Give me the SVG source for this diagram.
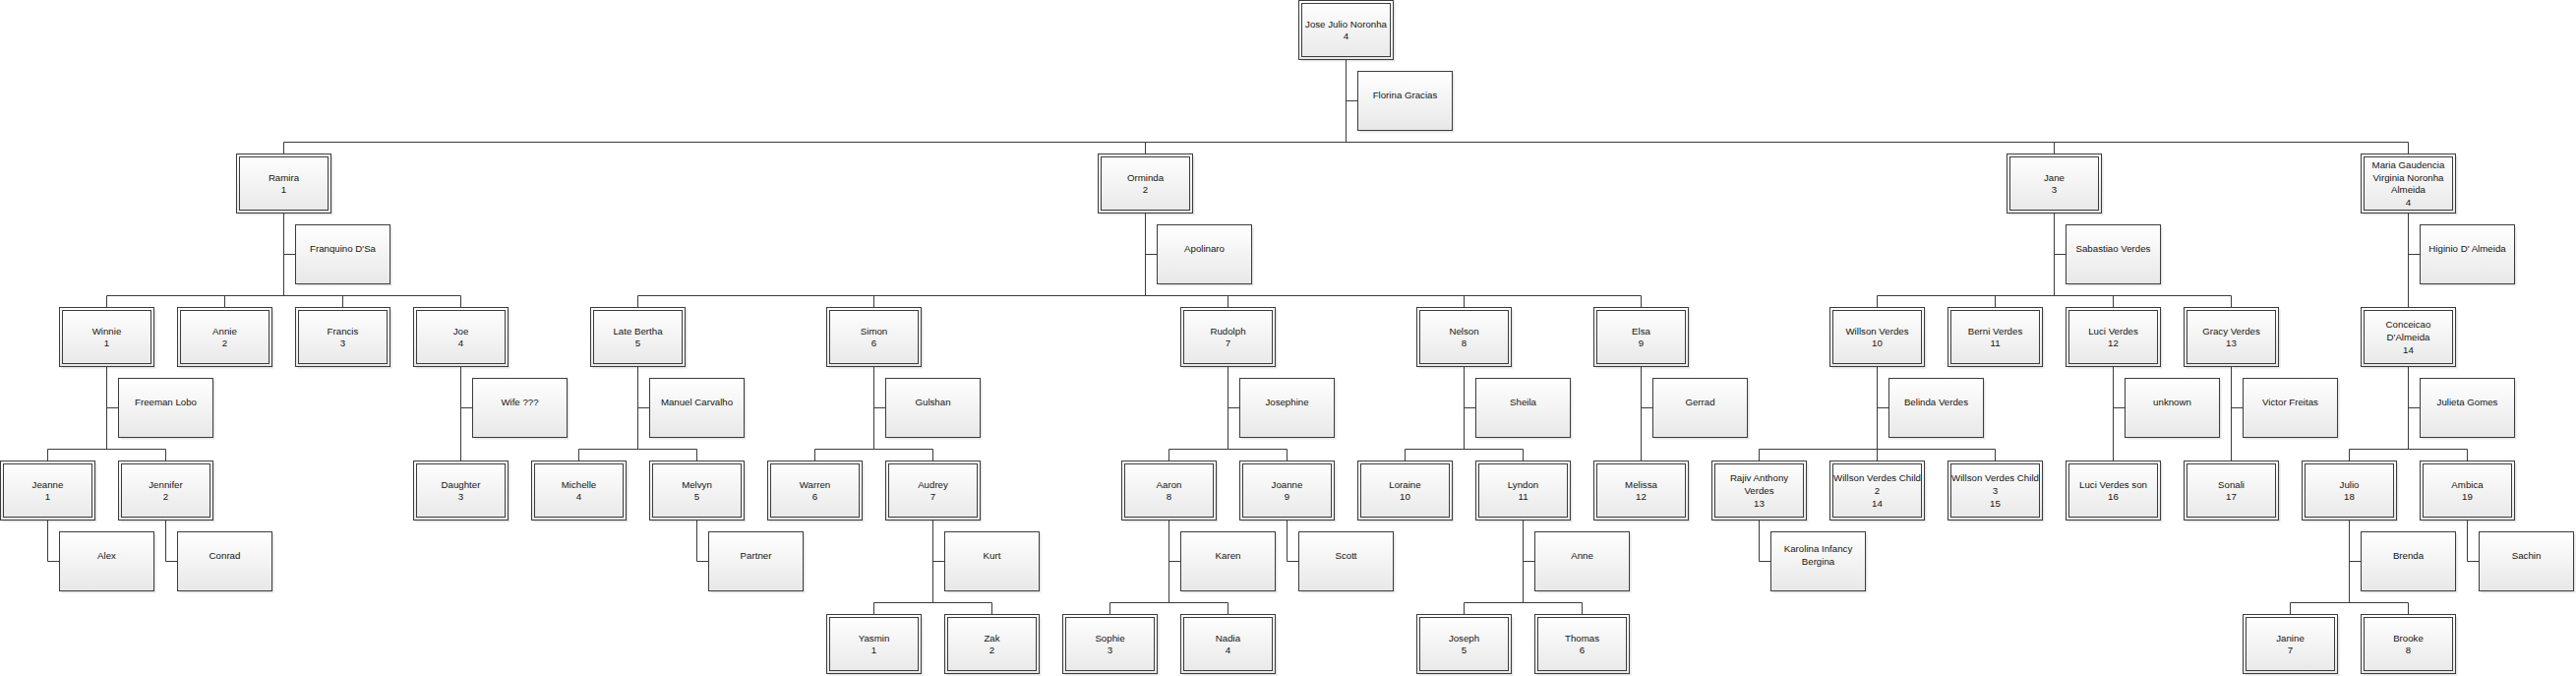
<svg xmlns="http://www.w3.org/2000/svg" xmlns:xlink="http://www.w3.org/1999/xlink" width="2619" height="687" viewBox="0 0 2619 687">
<style>
.o{fill:url(#grad);stroke:#3c3c3c;stroke-width:1}
.i{fill:none;stroke:#3c3c3c;stroke-width:1}
.sh{fill:#000;opacity:0.1}
.c{fill:none;stroke:#3c3c3c;stroke-width:1}
text{font-family:"Liberation Sans",Arial,sans-serif;font-size:9.7px;fill:#141414;text-anchor:middle}
</style>
<defs>
<linearGradient id="grad" x1="0" y1="0" x2="0" y2="1">
<stop offset="0" stop-color="#ffffff"/>
<stop offset="1" stop-color="#e8e8e8"/>
</linearGradient>
<g id="dbox"><rect class="sh" x="2" y="2" width="96" height="60"/><rect class="o" width="96" height="60"/><rect class="i" x="3" y="3" width="90" height="54"/></g>
<g id="sbox"><rect class="sh" x="2" y="2" width="96" height="60"/><rect class="o" width="96" height="60"/></g>
</defs>
<rect width="2619" height="687" fill="#fff"/>
<g id="connectors">
<path class="c" d="M1368.5 60.5V144.5M1368.5 102.5H1380.5M288.5 144.5H2448.5M288.5 144.5V156.5M1164.5 144.5V156.5M2088.5 144.5V156.5M2448.5 144.5V156.5"/>
<path class="c" d="M288.5 216.5V300.5M288.5 258.5H300.5M108.5 300.5H468.5M108.5 300.5V312.5M228.5 300.5V312.5M348.5 300.5V312.5M468.5 300.5V312.5"/>
<path class="c" d="M1164.5 216.5V300.5M1164.5 258.5H1176.5M648.5 300.5H1668.5M648.5 300.5V312.5M888.5 300.5V312.5M1248.5 300.5V312.5M1488.5 300.5V312.5M1668.5 300.5V312.5"/>
<path class="c" d="M2088.5 216.5V300.5M2088.5 258.5H2100.5M1908.5 300.5H2268.5M1908.5 300.5V312.5M2028.5 300.5V312.5M2148.5 300.5V312.5M2268.5 300.5V312.5"/>
<path class="c" d="M2448.5 216.5V312.5M2448.5 258.5H2460.5"/>
<path class="c" d="M108.5 372.5V456.5M108.5 414.5H120.5M48.5 456.5H168.5M48.5 456.5V468.5M168.5 456.5V468.5"/>
<path class="c" d="M468.5 372.5V468.5M468.5 414.5H480.5"/>
<path class="c" d="M648.5 372.5V456.5M648.5 414.5H660.5M588.5 456.5H708.5M588.5 456.5V468.5M708.5 456.5V468.5"/>
<path class="c" d="M888.5 372.5V456.5M888.5 414.5H900.5M828.5 456.5H948.5M828.5 456.5V468.5M948.5 456.5V468.5"/>
<path class="c" d="M1248.5 372.5V456.5M1248.5 414.5H1260.5M1188.5 456.5H1308.5M1188.5 456.5V468.5M1308.5 456.5V468.5"/>
<path class="c" d="M1488.5 372.5V456.5M1488.5 414.5H1500.5M1428.5 456.5H1548.5M1428.5 456.5V468.5M1548.5 456.5V468.5"/>
<path class="c" d="M1668.5 372.5V468.5M1668.5 414.5H1680.5"/>
<path class="c" d="M1908.5 372.5V456.5M1908.5 414.5H1920.5M1788.5 456.5H2028.5M1788.5 456.5V468.5M1908.5 456.5V468.5M2028.5 456.5V468.5"/>
<path class="c" d="M2148.5 372.5V468.5M2148.5 414.5H2160.5"/>
<path class="c" d="M2268.5 372.5V468.5M2268.5 414.5H2280.5"/>
<path class="c" d="M2448.5 372.5V456.5M2448.5 414.5H2460.5M2388.5 456.5H2508.5M2388.5 456.5V468.5M2508.5 456.5V468.5"/>
<path class="c" d="M48.5 528.5V570.5H60.5M168.5 528.5V570.5H180.5M708.5 528.5V570.5H720.5M1308.5 528.5V570.5H1320.5M1788.5 528.5V570.5H1800.5M2508.5 528.5V570.5H2520.5"/>
<path class="c" d="M948.5 528.5V612.5M948.5 570.5H960.5M888.5 612.5H1008.5M888.5 612.5V624.5M1008.5 612.5V624.5"/>
<path class="c" d="M1188.5 528.5V612.5M1188.5 570.5H1200.5M1128.5 612.5H1248.5M1128.5 612.5V624.5M1248.5 612.5V624.5"/>
<path class="c" d="M1548.5 528.5V612.5M1548.5 570.5H1560.5M1488.5 612.5H1608.5M1488.5 612.5V624.5M1608.5 612.5V624.5"/>
<path class="c" d="M2388.5 528.5V612.5M2388.5 570.5H2400.5M2328.5 612.5H2448.5M2328.5 612.5V624.5M2448.5 612.5V624.5"/>
</g>

<g id="jose"><use href="#dbox" x="1320.5" y="0.5"/><text x="1368.5" y="27.5">Jose Julio Noronha<tspan x="1368.5" dy="12.7">4</tspan></text></g>
<g id="florina"><use href="#sbox" x="1380.5" y="72.5"/><text x="1428.5" y="99.5">Florina Gracias</text></g>

<g id="ramira"><use href="#dbox" x="240.5" y="156.5"/><text x="288.5" y="183.5">Ramira<tspan x="288.5" dy="12.7">1</tspan></text></g>
<g id="franquino"><use href="#sbox" x="300.5" y="228.5"/><text x="348.5" y="255.5">Franquino D'Sa</text></g>
<g id="orminda"><use href="#dbox" x="1116.5" y="156.5"/><text x="1164.5" y="183.5">Orminda<tspan x="1164.5" dy="12.7">2</tspan></text></g>
<g id="apolinaro"><use href="#sbox" x="1176.5" y="228.5"/><text x="1224.5" y="255.5">Apolinaro</text></g>
<g id="jane"><use href="#dbox" x="2040.5" y="156.5"/><text x="2088.5" y="183.5">Jane<tspan x="2088.5" dy="12.7">3</tspan></text></g>
<g id="sabastiao"><use href="#sbox" x="2100.5" y="228.5"/><text x="2148.5" y="255.5">Sabastiao Verdes</text></g>
<g id="maria"><use href="#dbox" x="2400.5" y="156.5"/><text x="2448.5" y="170.9">Maria Gaudencia<tspan x="2448.5" dy="12.7">Virginia Noronha</tspan><tspan x="2448.5" dy="12.7">Almeida</tspan><tspan x="2448.5" dy="12.7">4</tspan></text></g>
<g id="higinio"><use href="#sbox" x="2460.5" y="228.5"/><text x="2508.5" y="255.5">Higinio D' Almeida</text></g>

<g id="winnie"><use href="#dbox" x="60.5" y="312.5"/><text x="108.5" y="339.5">Winnie<tspan x="108.5" dy="12.7">1</tspan></text></g>
<g id="freeman"><use href="#sbox" x="120.5" y="384.5"/><text x="168.5" y="411.5">Freeman Lobo</text></g>
<g id="annie"><use href="#dbox" x="180.5" y="312.5"/><text x="228.5" y="339.5">Annie<tspan x="228.5" dy="12.7">2</tspan></text></g>
<g id="francis"><use href="#dbox" x="300.5" y="312.5"/><text x="348.5" y="339.5">Francis<tspan x="348.5" dy="12.7">3</tspan></text></g>
<g id="joe"><use href="#dbox" x="420.5" y="312.5"/><text x="468.5" y="339.5">Joe<tspan x="468.5" dy="12.7">4</tspan></text></g>
<g id="wife"><use href="#sbox" x="480.5" y="384.5"/><text x="528.5" y="411.5">Wife ???</text></g>
<g id="latebertha"><use href="#dbox" x="600.5" y="312.5"/><text x="648.5" y="339.5">Late Bertha<tspan x="648.5" dy="12.7">5</tspan></text></g>
<g id="manuel"><use href="#sbox" x="660.5" y="384.5"/><text x="708.5" y="411.5">Manuel Carvalho</text></g>
<g id="simon"><use href="#dbox" x="840.5" y="312.5"/><text x="888.5" y="339.5">Simon<tspan x="888.5" dy="12.7">6</tspan></text></g>
<g id="gulshan"><use href="#sbox" x="900.5" y="384.5"/><text x="948.5" y="411.5">Gulshan</text></g>
<g id="rudolph"><use href="#dbox" x="1200.5" y="312.5"/><text x="1248.5" y="339.5">Rudolph<tspan x="1248.5" dy="12.7">7</tspan></text></g>
<g id="josephine"><use href="#sbox" x="1260.5" y="384.5"/><text x="1308.5" y="411.5">Josephine</text></g>
<g id="nelson"><use href="#dbox" x="1440.5" y="312.5"/><text x="1488.5" y="339.5">Nelson<tspan x="1488.5" dy="12.7">8</tspan></text></g>
<g id="sheila"><use href="#sbox" x="1500.5" y="384.5"/><text x="1548.5" y="411.5">Sheila</text></g>
<g id="elsa"><use href="#dbox" x="1620.5" y="312.5"/><text x="1668.5" y="339.5">Elsa<tspan x="1668.5" dy="12.7">9</tspan></text></g>
<g id="gerrad"><use href="#sbox" x="1680.5" y="384.5"/><text x="1728.5" y="411.5">Gerrad</text></g>
<g id="willson"><use href="#dbox" x="1860.5" y="312.5"/><text x="1908.5" y="339.5">Willson Verdes<tspan x="1908.5" dy="12.7">10</tspan></text></g>
<g id="belinda"><use href="#sbox" x="1920.5" y="384.5"/><text x="1968.5" y="411.5">Belinda Verdes</text></g>
<g id="berni"><use href="#dbox" x="1980.5" y="312.5"/><text x="2028.5" y="339.5">Berni Verdes<tspan x="2028.5" dy="12.7">11</tspan></text></g>
<g id="luci"><use href="#dbox" x="2100.5" y="312.5"/><text x="2148.5" y="339.5">Luci Verdes<tspan x="2148.5" dy="12.7">12</tspan></text></g>
<g id="unknown"><use href="#sbox" x="2160.5" y="384.5"/><text x="2208.5" y="411.5">unknown</text></g>
<g id="gracy"><use href="#dbox" x="2220.5" y="312.5"/><text x="2268.5" y="339.5">Gracy Verdes<tspan x="2268.5" dy="12.7">13</tspan></text></g>
<g id="victor"><use href="#sbox" x="2280.5" y="384.5"/><text x="2328.5" y="411.5">Victor Freitas</text></g>
<g id="conceicao"><use href="#dbox" x="2400.5" y="312.5"/><text x="2448.5" y="333.2">Conceicao<tspan x="2448.5" dy="12.7">D'Almeida</tspan><tspan x="2448.5" dy="12.7">14</tspan></text></g>
<g id="julieta"><use href="#sbox" x="2460.5" y="384.5"/><text x="2508.5" y="411.5">Julieta Gomes</text></g>

<g id="jeanne"><use href="#dbox" x="0.5" y="468.5"/><text x="48.5" y="495.5">Jeanne<tspan x="48.5" dy="12.7">1</tspan></text></g>
<g id="alex"><use href="#sbox" x="60.5" y="540.5"/><text x="108.5" y="567.5">Alex</text></g>
<g id="jennifer"><use href="#dbox" x="120.5" y="468.5"/><text x="168.5" y="495.5">Jennifer<tspan x="168.5" dy="12.7">2</tspan></text></g>
<g id="conrad"><use href="#sbox" x="180.5" y="540.5"/><text x="228.5" y="567.5">Conrad</text></g>
<g id="daughter"><use href="#dbox" x="420.5" y="468.5"/><text x="468.5" y="495.5">Daughter<tspan x="468.5" dy="12.7">3</tspan></text></g>
<g id="michelle"><use href="#dbox" x="540.5" y="468.5"/><text x="588.5" y="495.5">Michelle<tspan x="588.5" dy="12.7">4</tspan></text></g>
<g id="melvyn"><use href="#dbox" x="660.5" y="468.5"/><text x="708.5" y="495.5">Melvyn<tspan x="708.5" dy="12.7">5</tspan></text></g>
<g id="partner"><use href="#sbox" x="720.5" y="540.5"/><text x="768.5" y="567.5">Partner</text></g>
<g id="warren"><use href="#dbox" x="780.5" y="468.5"/><text x="828.5" y="495.5">Warren<tspan x="828.5" dy="12.7">6</tspan></text></g>
<g id="audrey"><use href="#dbox" x="900.5" y="468.5"/><text x="948.5" y="495.5">Audrey<tspan x="948.5" dy="12.7">7</tspan></text></g>
<g id="kurt"><use href="#sbox" x="960.5" y="540.5"/><text x="1008.5" y="567.5">Kurt</text></g>
<g id="aaron"><use href="#dbox" x="1140.5" y="468.5"/><text x="1188.5" y="495.5">Aaron<tspan x="1188.5" dy="12.7">8</tspan></text></g>
<g id="karen"><use href="#sbox" x="1200.5" y="540.5"/><text x="1248.5" y="567.5">Karen</text></g>
<g id="joanne"><use href="#dbox" x="1260.5" y="468.5"/><text x="1308.5" y="495.5">Joanne<tspan x="1308.5" dy="12.7">9</tspan></text></g>
<g id="scott"><use href="#sbox" x="1320.5" y="540.5"/><text x="1368.5" y="567.5">Scott</text></g>
<g id="loraine"><use href="#dbox" x="1380.5" y="468.5"/><text x="1428.5" y="495.5">Loraine<tspan x="1428.5" dy="12.7">10</tspan></text></g>
<g id="lyndon"><use href="#dbox" x="1500.5" y="468.5"/><text x="1548.5" y="495.5">Lyndon<tspan x="1548.5" dy="12.7">11</tspan></text></g>
<g id="anne"><use href="#sbox" x="1560.5" y="540.5"/><text x="1608.5" y="567.5">Anne</text></g>
<g id="melissa"><use href="#dbox" x="1620.5" y="468.5"/><text x="1668.5" y="495.5">Melissa<tspan x="1668.5" dy="12.7">12</tspan></text></g>
<g id="rajiv"><use href="#dbox" x="1740.5" y="468.5"/><text x="1788.5" y="489.2">Rajiv Anthony<tspan x="1788.5" dy="12.7">Verdes</tspan><tspan x="1788.5" dy="12.7">13</tspan></text></g>
<g id="karolina"><use href="#sbox" x="1800.5" y="540.5"/><text x="1848.5" y="561">Karolina Infancy<tspan x="1848.5" dy="12.7">Bergina</tspan></text></g>
<g id="wvchild2"><use href="#dbox" x="1860.5" y="468.5"/><text x="1908.5" y="489.2">Willson Verdes Child<tspan x="1908.5" dy="12.7">2</tspan><tspan x="1908.5" dy="12.7">14</tspan></text></g>
<g id="wvchild3"><use href="#dbox" x="1980.5" y="468.5"/><text x="2028.5" y="489.2">Willson Verdes Child<tspan x="2028.5" dy="12.7">3</tspan><tspan x="2028.5" dy="12.7">15</tspan></text></g>
<g id="lucison"><use href="#dbox" x="2100.5" y="468.5"/><text x="2148.5" y="495.5">Luci Verdes son<tspan x="2148.5" dy="12.7">16</tspan></text></g>
<g id="sonali"><use href="#dbox" x="2220.5" y="468.5"/><text x="2268.5" y="495.5">Sonali<tspan x="2268.5" dy="12.7">17</tspan></text></g>
<g id="julio"><use href="#dbox" x="2340.5" y="468.5"/><text x="2388.5" y="495.5">Julio<tspan x="2388.5" dy="12.7">18</tspan></text></g>
<g id="brenda"><use href="#sbox" x="2400.5" y="540.5"/><text x="2448.5" y="567.5">Brenda</text></g>
<g id="ambica"><use href="#dbox" x="2460.5" y="468.5"/><text x="2508.5" y="495.5">Ambica<tspan x="2508.5" dy="12.7">19</tspan></text></g>
<g id="sachin"><use href="#sbox" x="2520.5" y="540.5"/><text x="2568.5" y="567.5">Sachin</text></g>

<g id="yasmin"><use href="#dbox" x="840.5" y="624.5"/><text x="888.5" y="651.5">Yasmin<tspan x="888.5" dy="12.7">1</tspan></text></g>
<g id="zak"><use href="#dbox" x="960.5" y="624.5"/><text x="1008.5" y="651.5">Zak<tspan x="1008.5" dy="12.7">2</tspan></text></g>
<g id="sophie"><use href="#dbox" x="1080.5" y="624.5"/><text x="1128.5" y="651.5">Sophie<tspan x="1128.5" dy="12.7">3</tspan></text></g>
<g id="nadia"><use href="#dbox" x="1200.5" y="624.5"/><text x="1248.5" y="651.5">Nadia<tspan x="1248.5" dy="12.7">4</tspan></text></g>
<g id="joseph"><use href="#dbox" x="1440.5" y="624.5"/><text x="1488.5" y="651.5">Joseph<tspan x="1488.5" dy="12.7">5</tspan></text></g>
<g id="thomas"><use href="#dbox" x="1560.5" y="624.5"/><text x="1608.5" y="651.5">Thomas<tspan x="1608.5" dy="12.7">6</tspan></text></g>
<g id="janine"><use href="#dbox" x="2280.5" y="624.5"/><text x="2328.5" y="651.5">Janine<tspan x="2328.5" dy="12.7">7</tspan></text></g>
<g id="brooke"><use href="#dbox" x="2400.5" y="624.5"/><text x="2448.5" y="651.5">Brooke<tspan x="2448.5" dy="12.7">8</tspan></text></g>
</svg>
